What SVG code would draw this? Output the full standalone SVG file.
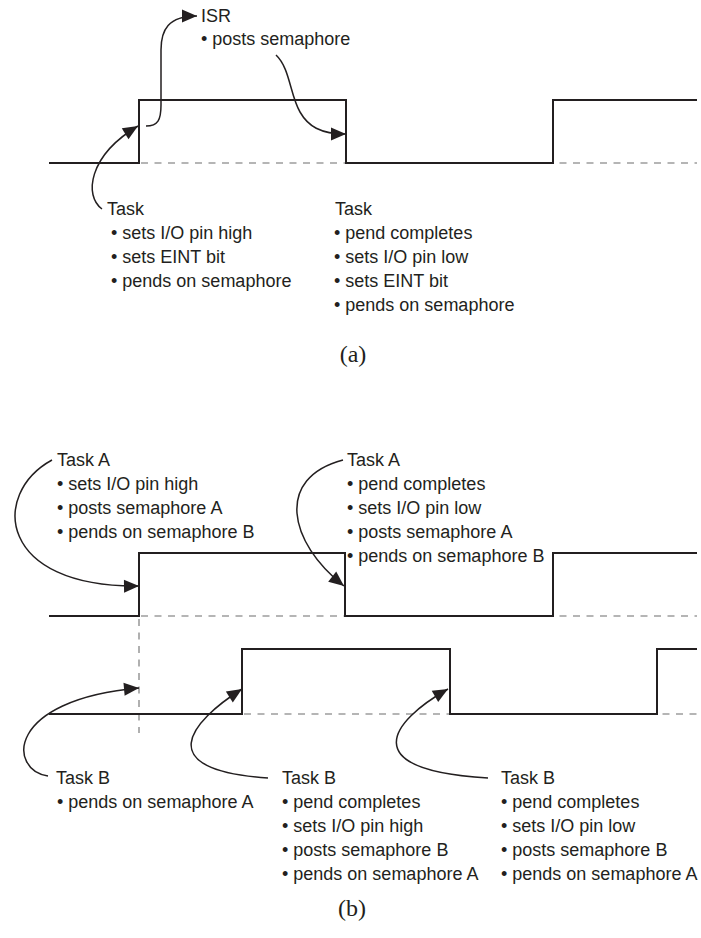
<svg xmlns="http://www.w3.org/2000/svg" width="701" height="938" viewBox="0 0 701 938">
<style>
.wave{fill:none;stroke:#231f20;stroke-width:2;stroke-linejoin:miter}
.dash{fill:none;stroke:#9d9d9d;stroke-width:1.6;stroke-dasharray:7 6.5}
.conn{fill:none;stroke:#231f20;stroke-width:1.5}
text{font-family:"Liberation Sans",Arial,Helvetica,sans-serif;font-size:18px;fill:#231f20}
text.cap{font-family:"Liberation Serif","Times New Roman",serif;font-size:24px;text-anchor:middle}
</style>
<defs>
<marker id="ah" markerUnits="userSpaceOnUse" markerWidth="17" markerHeight="15" refX="15" refY="6.5" orient="auto" overflow="visible">
<path d="M0,0 L15,6.5 L0,13 z" fill="#231f20"/>
</marker>
</defs>
<rect width="701" height="938" fill="#ffffff"/>

<g id="waveform-a">
<path class="dash" d="M141,163 H697"/>
<path class="wave" d="M49,163 H139 V100 H346 V163 H553 V100 H697"/>
</g>
<g id="waveform-b-taskA">
<path class="dash" d="M141,616 H697"/>
<path class="dash" d="M139,619 V733"/>
<path class="wave" d="M49,616 H139 V553 H345 V616 H553 V553 H697"/>
</g>
<g id="waveform-b-taskB">
<path class="dash" d="M244,714 H697"/>
<path class="wave" d="M49,714 H242 V649 H450 V714 H657 V649 H697"/>
</g>

<g id="connectors">
<path class="conn" marker-end="url(#ah)" d="M102,209 C84,196 88,156 138,126"/>
<path class="conn" marker-end="url(#ah)" d="M146,126 C158,126 161,120 161,105 L161,50 C161,30 168,16 197,16"/>
<path class="conn" marker-end="url(#ah)" d="M276,55 C290,68 290,95 300,112 C308,126 320,134 346,134"/>
<path class="conn" marker-end="url(#ah)" d="M52,460 C-10,494 -2,588 139,586"/>
<path class="conn" marker-end="url(#ah)" d="M343,460 C275,478 288,542 344,586"/>
<path class="conn" marker-end="url(#ah)" d="M48,776 C8,770 5,700 139,688"/>
<path class="conn" marker-end="url(#ah)" d="M268,778 C150,770 190,722 242,689"/>
<path class="conn" marker-end="url(#ah)" d="M488,778 C355,770 390,722 448,689"/>
</g>

<g id="label-isr">
<text x="201" y="22">ISR</text>
<text x="201" y="45">• posts semaphore</text>
</g>
<g id="label-a-task1">
<text x="107" y="215">Task</text>
<text x="111" y="239">• sets I/O pin high</text>
<text x="111" y="263">• sets EINT bit</text>
<text x="111" y="287">• pends on semaphore</text>
</g>
<g id="label-a-task2">
<text x="335" y="215">Task</text>
<text x="334" y="239">• pend completes</text>
<text x="334" y="263">• sets I/O pin low</text>
<text x="334" y="287">• sets EINT bit</text>
<text x="334" y="311">• pends on semaphore</text>
</g>
<text class="cap" x="353" y="362">(a)</text>

<g id="label-b-taskA1">
<text x="57" y="466">Task A</text>
<text x="57" y="490">• sets I/O pin high</text>
<text x="57" y="514">• posts semaphore A</text>
<text x="57" y="538">• pends on semaphore B</text>
</g>
<g id="label-b-taskA2">
<text x="347" y="466">Task A</text>
<text x="347" y="490">• pend completes</text>
<text x="347" y="514">• sets I/O pin low</text>
<text x="347" y="538">• posts semaphore A</text>
<text x="347" y="562">• pends on semaphore B</text>
</g>
<g id="label-b-taskB1">
<text x="56" y="784">Task B</text>
<text x="57" y="808">• pends on semaphore A</text>
</g>
<g id="label-b-taskB2">
<text x="282" y="784">Task B</text>
<text x="282" y="808">• pend completes</text>
<text x="282" y="832">• sets I/O pin high</text>
<text x="282" y="856">• posts semaphore B</text>
<text x="282" y="880">• pends on semaphore A</text>
</g>
<g id="label-b-taskB3">
<text x="501" y="784">Task B</text>
<text x="501" y="808">• pend completes</text>
<text x="501" y="832">• sets I/O pin low</text>
<text x="501" y="856">• posts semaphore B</text>
<text x="501" y="880">• pends on semaphore A</text>
</g>
<text class="cap" x="352" y="916">(b)</text>
</svg>
